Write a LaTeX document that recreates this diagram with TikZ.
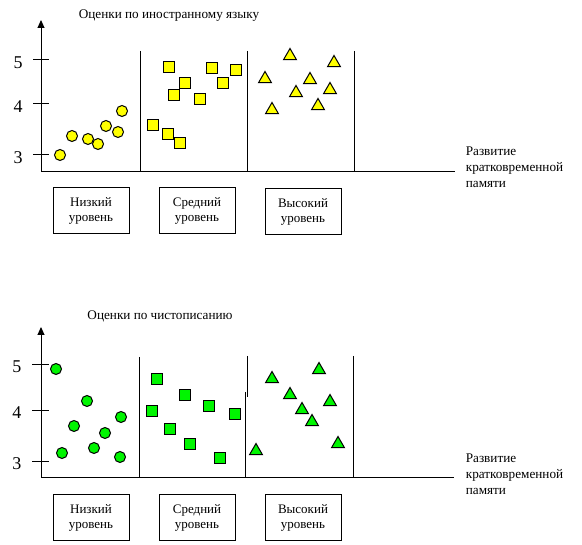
\documentclass[tikz,border=0pt]{standalone}
\usepackage{fontspec}
\setmainfont{Liberation Serif}
\usetikzlibrary{shapes.geometric,arrows.meta}

\definecolor{markyellow}{RGB}{255,255,0}
\definecolor{markgreen}{RGB}{0,245,0}

\begin{document}
\begin{tikzpicture}[x=1pt,y=-1pt,line width=1pt,
  font=\fontsize{13.2}{16}\selectfont,
  axis/.style={-{Triangle[length=8pt,width=7pt]}},
  digit/.style={font=\fontsize{18}{20}\selectfont},
  levelbox/.style={draw,minimum width=76pt,minimum height=46pt,
    align=center,font=\fontsize{13}{15}\selectfont},
  dot/.style={draw,circle,minimum size=11pt,inner sep=0pt},
  sq/.style={draw,rectangle,minimum size=11pt,inner sep=0pt},
  tri/.style={draw,regular polygon,regular polygon sides=3,
    minimum size=15pt,inner sep=0pt}]
  \useasboundingbox (0,0) rectangle (582,545);

  % --- Upper chart: foreign language ---
  \coordinate (o1) at (41,172);
  \coordinate (top1) at (41,20);
  \coordinate (end1) at (455,172);
  \draw[axis] (o1) -- (top1);
  \draw (o1) -- (end1);
  \node (title1) at (169,16) {Оценки по иностранному языку};
  \node[anchor=north west,align=left] (xlab1) at (462,143)
    {Развитие\\кратковременной\\памяти};

  % --- Scale ---
  \foreach \v/\y in {5/60,4/104,3/155} {
    \draw (33,\y) -- (49,\y);
    \node[digit] (g1-\v) at (18,\y+3) {\v};
  }

  % --- Separators ---
  \foreach \x in {140,247,354} \draw (\x,51) -- (\x,172);

  % --- Marks ---
  \foreach \x/\y [count=\i] in {60/155,72/136,88/139,98/144,106/126,118/132,122/111}
    \node[dot,fill=markyellow] (a\i) at (\x,\y) {};
  \foreach \x/\y [count=\i] in {169/67,185/83,174/95,200/99,212/68,223/83,236/70,153/125,168/134,180/143}
    \node[sq,fill=markyellow] (b\i) at (\x,\y) {};
  \foreach \x/\y [count=\i] in {265/79,290/56,334/63,310/80,296/93,330/90,272/110,318/106}
    \node[tri,fill=markyellow] (c\i) at (\x,\y) {};

  % --- Level boxes ---
  \node[levelbox] (low1) at (91,211) {Низкий\\уровень};
  \node[levelbox] (mid1) at (197,211) {Средний\\уровень};
  \node[levelbox] (high1) at (303,212) {Высокий\\уровень};

  % --- Lower chart: penmanship ---
  \coordinate (o2) at (41,478);
  \coordinate (top2) at (41,327);
  \coordinate (end2) at (454,478);
  \draw[axis] (o2) -- (top2);
  \draw (o2) -- (end2);
  \node (title2) at (160,316) {Оценки по чистописанию};
  \node[anchor=north west,align=left] (xlab2) at (462,450)
    {Развитие\\кратковременной\\памяти};

  % --- Scale ---
  \foreach \v/\y in {5/365,4/411,3/462} {
    \draw (32,\y) -- (49,\y);
    \node[digit] (g2-\v) at (17,\y+2) {\v};
  }

  % --- Separators ---
  \draw (139,357) -- (139,478);
  \draw (247,356) -- (247,397);
  \draw (245,392) -- (245,477);
  \draw (353,356) -- (353,477);

  % --- Marks ---
  \foreach \x/\y [count=\i] in {56/369,87/401,74/426,62/453,94/448,105/433,121/417,120/457}
    \node[dot,fill=markgreen] (d\i) at (\x,\y) {};
  \foreach \x/\y [count=\i] in {157/379,152/411,185/395,170/429,209/406,190/444,235/414,220/458}
    \node[sq,fill=markgreen] (e\i) at (\x,\y) {};
  \foreach \x/\y [count=\i] in {272/379,319/370,290/395,330/402,302/410,312/422,256/451,338/444}
    \node[tri,fill=markgreen] (f\i) at (\x,\y) {};

  % --- Level boxes ---
  \node[levelbox] (low2) at (91,518) {Низкий\\уровень};
  \node[levelbox] (mid2) at (197,518) {Средний\\уровень};
  \node[levelbox] (high2) at (303,518) {Высокий\\уровень};
\end{tikzpicture}
\end{document}
